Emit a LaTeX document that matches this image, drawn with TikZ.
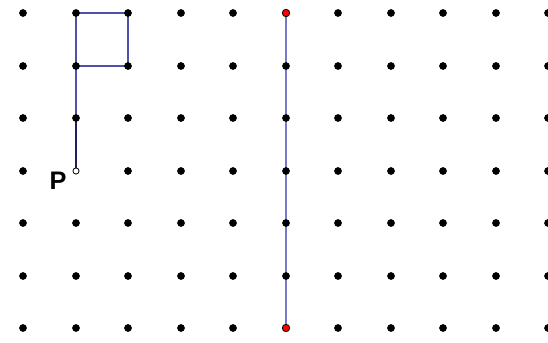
\documentclass[tikz,border=0pt]{standalone}
\usepackage{fontspec}
\setmainfont{Liberation Sans}
\definecolor{sqcol}{RGB}{80,80,170}
\definecolor{vcol}{RGB}{120,120,200}
\definecolor{pcol}{RGB}{30,30,90}
\begin{document}
\begin{tikzpicture}[x=0.75pt,y=-0.75pt,
  gdot/.style={circle,fill=black,inner sep=0pt,minimum size=5.8pt},
  rdot/.style={circle,fill=red,draw=black,line width=0.6pt,inner sep=0pt,minimum size=5.6pt},
  odot/.style={circle,fill=white,draw=black,line width=0.6pt,inner sep=0pt,minimum size=4.6pt},
  sqline/.style={draw=sqcol,line width=1.1pt},
  vline/.style={draw=vcol,line width=1.3pt},
  pline/.style={draw=pcol,line width=0.8pt}]
\useasboundingbox (0,0) rectangle (548,342);
% coordinates
\foreach \i in {0,...,10}{
  \foreach \j in {0,...,6}{
    \pgfmathsetmacro{\xx}{round(23+52.5*\i)}
    \pgfmathsetmacro{\yy}{round(13+52.5*\j)}
    \coordinate (c\i-\j) at (\xx,\yy);
  }
}
% lines
\draw[sqline] (c1-0) -- (c2-0) -- (c2-1) -- (c1-1) -- cycle;
\draw[sqline] (c1-1) -- (c1-2);
\draw[pline] (c1-2) -- (c1-3);
\draw[vline] (c5-0) -- (c5-6);
% dots
\foreach \i in {0,...,10}{
  \foreach \j in {0,...,6}{
    \ifnum\i=1 \ifnum\j=3 \else \node[gdot] (d\i-\j) at (c\i-\j) {};\fi
    \else
      \ifnum\i=5
        \ifnum\j=0 \node[rdot] (d\i-\j) at (c\i-\j) {};
        \else\ifnum\j=6 \node[rdot] (d\i-\j) at (c\i-\j) {};
        \else \node[gdot] (d\i-\j) at (c\i-\j) {};\fi\fi
      \else \node[gdot] (d\i-\j) at (c\i-\j) {};
      \fi
    \fi
  }
}
\node[odot] (p) at (c1-3) {};
\node[font=\bfseries\fontsize{19}{19}\selectfont,anchor=base,inner sep=0pt] (plabel) at (58,189) {P};
\end{tikzpicture}
\end{document}
